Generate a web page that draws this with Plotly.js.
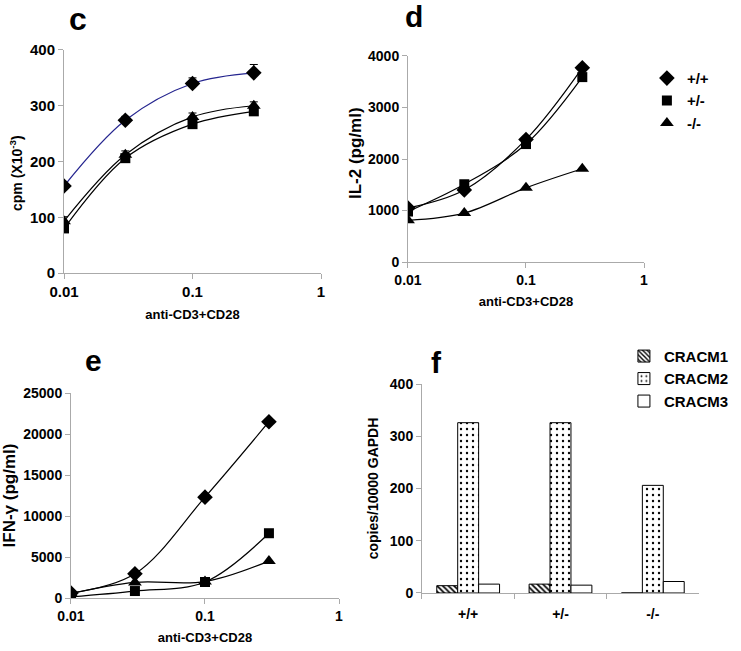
<!DOCTYPE html>
<html><head><meta charset="utf-8">
<script src="https://cdn.plot.ly/plotly-3.0.1.min.js"></script>
<style>body{margin:0;background:#fff}#g{width:741px;height:651px}</style>
</head><body><div id="g"></div>
<script>
// ---- data ----
const doses = [0.01, 0.03, 0.1, 0.3];
const seriesNames = ['+/+', '+/-', '-/-'];
// panel c: proliferation cpm (x10^-3)
const cpmWT = [156, 274, 340, 359];
const cpmWTerr = [0, 7, 10, 15];
const cpmHet = [80, 206, 267, 290];
const cpmHetErr = [4, 5, 5, 4];
const cpmKO = [93, 212, 280, 300];
const cpmKOerr = [8, 7, 7, 7];
// panel d: IL-2 (pg/ml)
const il2WT = [1050, 1400, 2380, 3770];
const il2Het = [980, 1510, 2290, 3590];
const il2KO = [810, 950, 1440, 1810];
// panel e: IFN-gamma (pg/ml)
const ifnWT = [600, 2950, 12300, 21500];
const ifnHet = [150, 850, 1950, 7900];
const ifnKO = [550, 1900, 2000, 4500];
// panel f: copies/10000 GAPDH
const genotypes = ['+/+', '+/-', '-/-'];
const cracm1 = [14, 17, 0];
const cracm2 = [326, 326, 206];
const cracm3 = [17, 15, 22];
const barNames = ['CRACM1', 'CRACM2', 'CRACM3'];

// ---- styles ----
const FONT = 'Liberation Sans, Arial, sans-serif';
const symbols = ['diamond', 'square', 'triangle-up'];
const msize = [12, 10, 12];

function lineTrace(x, y, i, xa, ya, color, err) {
  const t = {
    x: x, y: y, xaxis: xa, yaxis: ya, type: 'scatter', mode: 'lines+markers',
    line: {color: color || 'black', width: 1.2, shape: 'spline', smoothing: 1},
    marker: {symbol: symbols[i], size: msize[i], color: 'black'},
    showlegend: false, hoverinfo: 'skip'
  };
  if (err) {
    t.error_y = {type: 'data', symmetric: false, array: err, arrayminus: err.map(() => 0),
      color: 'black', thickness: 1, width: 4};
  }
  return t;
}

const traces = [];
// c
traces.push(lineTrace(doses, cpmHet, 1, 'x', 'y', 'black', cpmHetErr));
traces.push(lineTrace(doses, cpmKO, 2, 'x', 'y', 'black', cpmKOerr));
traces.push(lineTrace(doses, cpmWT, 0, 'x', 'y', '#25258f', cpmWTerr));
// d lines
[il2WT, il2Het, il2KO].forEach((s, i) => {
  const t = lineTrace(doses, s, i, 'x2', 'y2', 'black');
  t.mode = 'lines';
  traces.push(t);
});
// d markers with legend
[il2WT, il2Het, il2KO].forEach((s, i) => {
  traces.push({x: doses, y: s, xaxis: 'x2', yaxis: 'y2', type: 'scatter', mode: 'markers',
    name: seriesNames[i], marker: {symbol: symbols[i], size: msize[i], color: 'black'},
    showlegend: true, legend: 'legend', hoverinfo: 'skip'});
});
// e
[ifnWT, ifnHet, ifnKO].forEach((s, i) => traces.push(lineTrace(doses, s, i, 'x3', 'y3', 'black')));
// f bars
const patterns = [
  {shape: '\\', fgcolor: 'black', bgcolor: 'white', size: 4, solidity: 0.45},
  {shape: '.', fgcolor: 'black', bgcolor: 'white', size: 6, solidity: 0.12},
  {shape: '', fgcolor: 'black', bgcolor: 'white'}
];
[cracm1, cracm2, cracm3].forEach((s, i) => {
  traces.push({x: genotypes, y: s, xaxis: 'x4', yaxis: 'y4', type: 'bar', name: barNames[i],
    marker: {color: 'white', line: {color: 'black', width: 1}, pattern: patterns[i]},
    legend: 'legend2', showlegend: true, hoverinfo: 'skip'});
});

const tickFont = {family: FONT, size: 14, color: 'black', weight: 'bold'};
const titleFont = {family: FONT, size: 13, color: 'black', weight: 'bold'};
function tf(size) { return {family: FONT, size: size, color: 'black', weight: 'bold'}; }
function logX(domain, anchor, withTitle, tfont) {
  const a = {domain: domain, anchor: anchor, type: 'log', range: [-2, 0],
    tickvals: [0.01, 0.1, 1], ticktext: ['0.01', '0.1', '1'],
    showline: true, linecolor: '#aaa', linewidth: 1, ticks: 'outside', tickcolor: '#aaa', ticklen: 5,
    showgrid: false, zeroline: false, tickfont: tfont || tickFont, automargin: false};
  if (withTitle) a.title = {text: 'anti-CD3+CD28', font: titleFont, standoff: 10};
  return a;
}
function linY(domain, anchor, range, dtick, title, tfont, titleSize, standoff) {
  const a = {domain: domain, anchor: anchor, range: range, dtick: dtick, tick0: 0, tickformat: 'd',
    showline: true, linecolor: '#aaa', linewidth: 1, ticks: 'outside', tickcolor: '#aaa', ticklen: 5,
    showgrid: false, zeroline: false, tickfont: tfont || tickFont, automargin: false};
  if (title) a.title = {text: title, font: tf(titleSize), standoff: standoff};
  return a;
}
const tickFontC = tf(15);

const yTitleNotes = [
  {text: 'cpm (X10<sup>-3</sup>)', x: 16, y: 173, s: 14},
  {text: 'IL-2 (pg/ml)', x: 355, y: 153, s: 17}
].map(a => ({text: a.text, xref: 'paper', yref: 'paper', x: a.x / 741, y: 1 - a.y / 651,
  xanchor: 'center', yanchor: 'middle', showarrow: false, textangle: -90, font: tf(a.s)}));

const letterNotes = [
  {text: 'c', x: 78, y: 19, s: 32},
  {text: 'd', x: 414, y: 17, s: 30},
  {text: 'e', x: 93, y: 360, s: 30},
  {text: 'f', x: 436, y: 362, s: 30}
].map(a => ({text: a.text, xref: 'paper', yref: 'paper', x: a.x / 741, y: 1 - a.y / 651,
  xanchor: 'center', yanchor: 'middle', showarrow: false, font: tf(a.s)}));

const layout = {
  width: 741, height: 651, margin: {l: 0, r: 0, t: 0, b: 0},
  paper_bgcolor: 'white', plot_bgcolor: 'white', showlegend: true,
  font: {family: FONT, color: 'black'},
  xaxis: logX([0.0864, 0.4332], 'y', true, tickFontC),
  yaxis: linY([0.5806, 0.9232], 'x', [0, 400], 100, null, tickFontC),
  xaxis2: logX([0.5506, 0.8691], 'y2', true),
  yaxis2: linY([0.5975, 0.914], 'x2', [0, 4000], 1000, null),
  xaxis3: logX([0.0958, 0.4575], 'y3', true),
  yaxis3: linY([0.0814, 0.3963], 'x3', [0, 25000], 5000, 'IFN-\u03b3 (pg/ml)', null, 17, 12),
  xaxis4: {domain: [0.5695, 0.9433], anchor: 'y4', type: 'category', range: [-0.5, 2.5],
    showline: true, linecolor: '#aaa', ticks: 'outside', tickson: 'boundaries', tickcolor: '#aaa', ticklen: 5,
    ticklabelstandoff: 8,
    showgrid: false, zeroline: false, tickfont: tickFont, automargin: false},
  yaxis4: linY([0.0891, 0.4101], 'x4', [0, 400], 100, 'copies/10000 GAPDH', null, 14, 7),
  barmode: 'group', bargap: 0.32, bargroupgap: 0,
  legend: {x: 0.873, y: 0.905, xanchor: 'left', yanchor: 'top', bgcolor: 'rgba(0,0,0,0)',
    font: tf(15), tracegroupgap: 0, itemwidth: 30},
  legend2: {x: 0.842, y: 0.478, xanchor: 'left', yanchor: 'top', bgcolor: 'rgba(0,0,0,0)',
    font: tf(15), tracegroupgap: 0, itemwidth: 30},
  annotations: letterNotes.concat(yTitleNotes)
};

Plotly.newPlot('g', traces, layout, {staticPlot: true, displayModeBar: false});
</script></body></html>
